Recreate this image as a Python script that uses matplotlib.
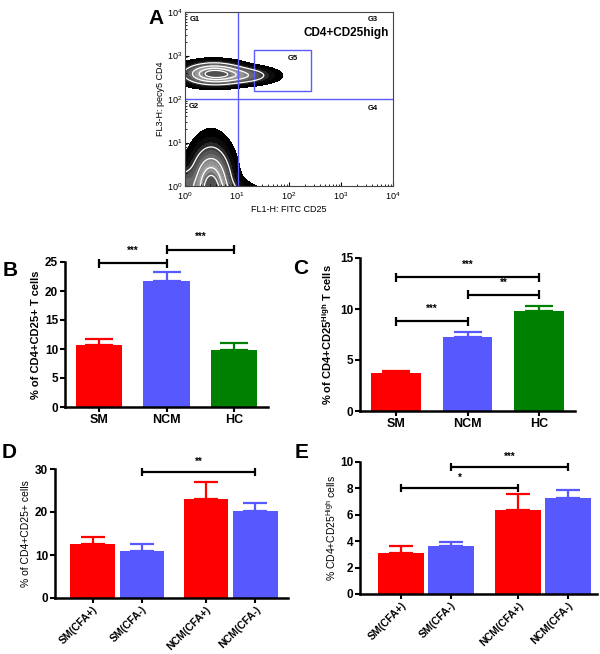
import numpy as np
import matplotlib
matplotlib.use("Agg")
import matplotlib.pyplot as plt
from matplotlib.patches import Rectangle

plt.rcParams['font.family'] = ['Liberation Sans', 'DejaVu Sans']

# ---- panel A: flow cytometry populations (log10 space: cx, cy, sx, sy, weight) ----
pop_components = [
    (0.55, 2.58, 0.32, 0.14, 1.00),
    (1.15, 2.54, 0.33, 0.11, 0.35),
    (0.50, 0.00, 0.22, 0.50, 1.00),
    (0.80, -0.40, 0.35, 0.25, 0.40),
    (0.00, 0.00, 0.12, 0.25, 0.30),
]
gate_x = 10.5
gate_y = 100
g5_x = [21, 263]
g5_y = [152, 1350]
gate_names = ['G1', 'G2', 'G3', 'G4', 'G5']

# ---- panel B ----
b_groups = ['SM', 'NCM', 'HC']
b_means = [10.7, 21.8, 9.9]
b_sem = [1.0, 1.4, 1.2]
b_sig = [(0, 1, 24.8, '***'), (1, 2, 27.1, '***')]

# ---- panel C ----
c_groups = ['SM', 'NCM', 'HC']
c_means = [3.7, 7.25, 9.8]
c_sem = [0.2, 0.5, 0.5]
c_sig = [(0, 1, 8.8, '***'), (1, 2, 11.4, '**'), (0, 2, 13.1, '***')]

# ---- panel D ----
d_groups = ['SM(CFA+)', 'SM(CFA-)', 'NCM(CFA+)', 'NCM(CFA-)']
d_means = [12.6, 10.9, 23.0, 20.2]
d_sem = [1.6, 1.6, 4.0, 1.9]
d_sig = [(1, 3, 29.3, '**')]

# ---- panel E ----
e_groups = ['SM(CFA+)', 'SM(CFA-)', 'NCM(CFA+)', 'NCM(CFA-)']
e_means = [3.1, 3.65, 6.4, 7.25]
e_sem = [0.55, 0.3, 1.15, 0.6]
e_sig = [(1, 3, 9.6, '***'), (0, 2, 8.0, '*')]

RED = '#ff0000'
BLUE = '#5858ff'
GREEN = '#008000'

W, H = 600, 654
fig = plt.figure(figsize=(6, 6.54), dpi=100)


def px_axes(left, right, top, bottom):
    return fig.add_axes([left / W, 1 - bottom / H, (right - left) / W, (bottom - top) / H])


def style_bar_axes(ax):
    for s in ['top', 'right']:
        ax.spines[s].set_visible(False)
    for s in ['left', 'bottom']:
        ax.spines[s].set_linewidth(1.8)
    ax.tick_params(direction='out', length=3.5, width=1.5, labelsize=8.5, pad=1.5)
    for lab in ax.get_yticklabels():
        lab.set_fontweight('bold')


def bars(ax, x, means, sem, colors, width, cap):
    for xi, m, e, c in zip(x, means, sem, colors):
        ax.bar(xi, m, width=width, color=c, edgecolor='none', zorder=2)
        ax.errorbar(xi, m, yerr=[[0], [e]], color=c, capsize=cap, elinewidth=1.6,
                    capthick=1.6, zorder=1)


def brackets(ax, x, sig, tick, dy, fs=7):
    for i, j, y, s in sig:
        kw = dict(color='black', lw=1.6, clip_on=False, solid_capstyle='butt')
        ax.plot([x[i], x[j]], [y, y], **kw)
        ax.plot([x[i], x[i]], [y - tick, y + tick], **kw)
        ax.plot([x[j], x[j]], [y - tick, y + tick], **kw)
        ax.text((x[i] + x[j]) / 2, y + dy, s, ha='center', va='bottom',
                fontsize=fs, fontweight='bold')


# ================= panel A =================
axA = px_axes(185, 393, 12, 186)
gx = np.linspace(0, 4, 400)
gy = np.linspace(0, 4, 400)
GX, GY = np.meshgrid(gx, gy)
dens = np.zeros_like(GX)
for cx, cy, sx, sy, w in pop_components:
    dens += w * np.exp(-0.5 * (((GX - cx) / sx) ** 2 + ((GY - cy) / sy) ** 2))
levels = [0.03, 0.08, 0.14, 0.2, 0.27, 0.35, 0.44, 0.54, 0.64, 0.74, 0.84, 0.93, 3.0]
shades = ['#000000', '#0c0c0c', '#2a2a2a', '#404040', '#555555', '#6a6a6a',
          '#808080', '#949494', '#a4a4a4', '#8e8e8e', '#6e6e6e', '#505050']
axA.contourf(10 ** GX, 10 ** GY, dens, levels=levels, colors=shades)
axA.contour(10 ** GX, 10 ** GY, dens, levels=[0.2, 0.45, 0.7, 0.9], colors='white',
            linewidths=0.9)
axA.set_xscale('log')
axA.set_yscale('log')
axA.set_xlim(1, 1e4)
axA.set_ylim(1, 1e4)
axA.axvline(gate_x, color='#5b5bff', lw=1)
axA.axhline(gate_y, color='#5b5bff', lw=1)
axA.add_patch(Rectangle((g5_x[0], g5_y[0]), g5_x[1] - g5_x[0], g5_y[1] - g5_y[0],
                        fill=False, edgecolor='#5b5bff', lw=1))
gate_pos = [(1.25, 6600), (1.2, 69), (3300, 6600), (3300, 59), (95, 870)]
for name, (gxp, gyp) in zip(gate_names, gate_pos):
    axA.text(gxp, gyp, name, fontsize=5.5, fontweight='bold', va='center')
axA.text(8300, 3300, 'CD4+CD25high', fontsize=8.5, fontweight='bold', ha='right',
         va='center')
axA.tick_params(which='both', direction='in', labelsize=6.5)
axA.tick_params(axis='x', pad=3)
axA.tick_params(axis='y', pad=2)
axA.tick_params(which='major', length=3)
axA.tick_params(which='minor', length=1.5)
for s in axA.spines.values():
    s.set_linewidth(0.8)
    s.set_color('#444444')
axA.set_xlabel('FL1-H: FITC CD25', fontsize=6.5, labelpad=2)
axA.set_ylabel('FL3-H: pecy5 CD4', fontsize=6.5, labelpad=1)

# ================= panel B =================
axB = px_axes(65, 268, 262, 407)
xb = np.arange(len(b_groups))
bars(axB, xb, b_means, b_sem, [RED, BLUE, GREEN], 0.68, 10)
axB.set_xlim(-0.5, 2.5)
axB.set_ylim(0, 25)
axB.set_yticks([0, 5, 10, 15, 20, 25])
axB.set_xticks(xb)
style_bar_axes(axB)
axB.set_xticklabels(b_groups, fontsize=9, fontweight='bold')
axB.set_ylabel('% of CD4+CD25+ T cells', fontsize=8, fontweight='bold', labelpad=3)
brackets(axB, xb, b_sig, 0.8, 1.3)

# ================= panel C =================
axC = px_axes(360, 575, 258, 411)
xc = np.arange(len(c_groups))
bars(axC, xc, c_means, c_sem, [RED, BLUE, GREEN], 0.69, 10)
axC.set_xlim(-0.5, 2.5)
axC.set_ylim(0, 15)
axC.set_yticks([0, 5, 10, 15])
axC.set_xticks(xc)
style_bar_axes(axC)
axC.set_xticklabels(c_groups, fontsize=9, fontweight='bold')
axC.set_ylabel('% of CD4+CD25$^{\\mathregular{High}}$ T cells', fontsize=8,
               fontweight='bold', labelpad=4)
brackets(axC, xc, c_sig, 0.45, 0.7)

# ================= panel D =================
axD = px_axes(55, 288, 469, 598)
xd = np.array([0, 1, 2.3, 3.3])
bars(axD, xd, d_means, d_sem, [RED, BLUE, RED, BLUE], 0.9, 8.5)
axD.set_xlim(-0.76, 3.96)
axD.set_ylim(0, 30)
axD.set_yticks([0, 10, 20, 30])
axD.set_xticks(xd)
style_bar_axes(axD)
axD.set_xticklabels(d_groups, fontsize=7.5, fontweight='bold', rotation=45,
                    ha='right', rotation_mode='anchor')
axD.tick_params(axis='x', pad=1)
axD.set_ylabel('% of CD4+CD25+ cells', fontsize=7.5, labelpad=3)
brackets(axD, xd, d_sig, 0.9, 1.2)

# ================= panel E =================
axE = px_axes(360, 597, 462, 594)
xe = np.array([0, 1, 2.36, 3.36])
bars(axE, xe, e_means, e_sem, [RED, BLUE, RED, BLUE], 0.93, 8.5)
axE.set_xlim(-0.83, 3.95)
axE.set_ylim(0, 10)
axE.set_yticks([0, 2, 4, 6, 8, 10])
axE.set_xticks(xe)
style_bar_axes(axE)
axE.set_xticklabels(e_groups, fontsize=7.5, fontweight='bold', rotation=45,
                    ha='right', rotation_mode='anchor')
axE.tick_params(axis='x', pad=1)
axE.set_ylabel('% CD4+CD25$^{\\mathregular{High}}$ cells', fontsize=7.5, labelpad=1)
brackets(axE, xe, e_sig, 0.3, 0.4)

# panel letters
for letter, (lx, ly) in zip('ABCDE', [(156, 18), (10, 270), (301, 268), (9, 453), (302, 452)]):
    fig.text(lx / W, 1 - ly / H, letter, fontsize=15, fontweight='bold',
             ha='center', va='center')

fig.savefig('out.png', dpi=100)
